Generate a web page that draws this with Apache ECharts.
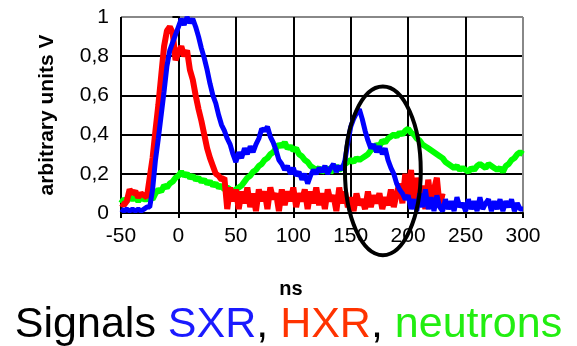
<!DOCTYPE html>
<html>
<head>
<meta charset="utf-8">
<script src="https://cdn.jsdelivr.net/npm/echarts@6/dist/echarts.min.js"></script>
<style>
  html, body { margin: 0; padding: 0; background: #fff; }
  #chart { width: 577px; height: 346px; }
</style>
</head>
<body>
<div id="chart"></div>
<script>
// time axis, ns (2.5 ns sampling)
var times = [
  -50, -47.5, -45, -42.5, -40, -37.5, -35, -32.5, -30, -27.5,
  -25, -22.5, -20, -17.5, -15, -12.5, -10, -7.5, -5, -2.5,
  0, 2.5, 5, 7.5, 10, 12.5, 15, 17.5, 20, 22.5,
  25, 27.5, 30, 32.5, 35, 37.5, 40, 42.5, 45, 47.5,
  50, 52.5, 55, 57.5, 60, 62.5, 65, 67.5, 70, 72.5,
  75, 77.5, 80, 82.5, 85, 87.5, 90, 92.5, 95, 97.5,
  100, 102.5, 105, 107.5, 110, 112.5, 115, 117.5, 120, 122.5,
  125, 127.5, 130, 132.5, 135, 137.5, 140, 142.5, 145, 147.5,
  150, 152.5, 155, 157.5, 160, 162.5, 165, 167.5, 170, 172.5,
  175, 177.5, 180, 182.5, 185, 187.5, 190, 192.5, 195, 197.5,
  200, 202.5, 205, 207.5, 210, 212.5, 215, 217.5, 220, 222.5,
  225, 227.5, 230, 232.5, 235, 237.5, 240, 242.5, 245, 247.5,
  250, 252.5, 255, 257.5, 260, 262.5, 265, 267.5, 270, 272.5,
  275, 277.5, 280, 282.5, 285, 287.5, 290, 292.5, 295, 297.5,
  300
];

var sxr = [
  0.02, 0.01, 0.02, 0.01, 0.02, 0.01, 0.02, 0.01, 0.02, 0.03,
  0.03, 0.12, 0.27, 0.38, 0.5, 0.62, 0.75, 0.83, 0.87, 0.91,
  0.95, 0.99, 0.96, 1.0, 0.97, 0.99, 0.95, 0.9, 0.84, 0.79,
  0.73, 0.66, 0.6, 0.56, 0.5, 0.45, 0.42, 0.38, 0.35, 0.3,
  0.26, 0.31, 0.28, 0.33, 0.3, 0.34, 0.31, 0.35, 0.38, 0.43,
  0.42, 0.44, 0.39, 0.36, 0.32, 0.27, 0.25, 0.22, 0.24, 0.2,
  0.23, 0.19, 0.21, 0.17, 0.2, 0.15, 0.19, 0.22, 0.2, 0.23,
  0.21, 0.24, 0.2, 0.23, 0.25, 0.21, 0.24, 0.22, 0.27, 0.36,
  0.44, 0.48, 0.51, 0.53, 0.48, 0.42, 0.37, 0.33, 0.35, 0.31,
  0.34, 0.3, 0.33, 0.27, 0.23, 0.2, 0.15, 0.12, 0.1, 0.07,
  0.09, 0.02, 0.07, 0.01, 0.1, 0.03, 0.12, 0.02, 0.08, 0.01,
  0.09, 0.03, 0.01, 0.07, 0.02, 0.06, 0.01, 0.08, 0.03, 0.05,
  0.01, 0.07, 0.02, 0.06, 0.01, 0.08, 0.02, 0.05, 0.07, 0.01,
  0.06, 0.02, 0.07, 0.01, 0.06, 0.03, 0.07, 0.01, 0.05, 0.02,
  0.02
];

var hxr = [
  0.05, 0.04, 0.06, 0.12, 0.1, 0.11, 0.08, 0.1, 0.09, 0.08,
  0.18, 0.28, 0.42, 0.55, 0.7, 0.85, 0.93, 0.95, 0.92, 0.78,
  0.82, 0.85, 0.8, 0.83, 0.73, 0.68, 0.6, 0.53, 0.47, 0.4,
  0.33, 0.28, 0.24, 0.2, 0.19, 0.17, 0.18, 0.02, 0.13, 0.06,
  0.12, 0.02, 0.11, 0.05, 0.13, 0.03, 0.1, 0.01, 0.12, 0.06,
  0.11, 0.02, 0.13, 0.07, 0.1, 0.01, 0.12, 0.04, 0.11, 0.06,
  0.13, 0.03, 0.1, 0.06, 0.12, 0.02, 0.11, 0.05, 0.13, 0.04,
  0.1, 0.02, 0.12, 0.06, 0.09, 0.01, 0.13, 0.05, 0.11, 0.03,
  0.08, 0.01, 0.1, 0.04, 0.07, 0.02, 0.11, 0.03, 0.09, 0.05,
  0.1, 0.02, 0.08, 0.04, 0.12, 0.03, 0.1, 0.15, 0.05, 0.2,
  0.08, 0.22, 0.04, 0.18, 0.06, 0.14, 0.02, 0.17, 0.05, 0.12,
  0.18, 0.03, 0.1, null, null, null, null, null, null, null,
  null, null, null, null, null, null, null, null, null, null,
  null, null, null, null, null, null, null, null, null, null,
  null
];

var neutrons = [
  0.05, 0.07, 0.06, 0.08, 0.07, 0.08, 0.06, 0.08, 0.07, 0.07,
  0.08, 0.07, 0.1, 0.12, 0.11, 0.14, 0.13, 0.15, 0.16, 0.18,
  0.19, 0.21, 0.19, 0.2, 0.18, 0.19, 0.17, 0.18, 0.16, 0.17,
  0.15, 0.16, 0.14, 0.15, 0.13, 0.14, 0.12, 0.13, 0.12, 0.11,
  0.12, 0.13, 0.14, 0.16, 0.18, 0.19, 0.21, 0.22, 0.24, 0.25,
  0.27, 0.28, 0.3, 0.31, 0.33, 0.35, 0.34, 0.36, 0.33, 0.34,
  0.32, 0.33, 0.3, 0.29, 0.27, 0.26, 0.24, 0.23, 0.22, 0.23,
  0.21, 0.22, 0.23, 0.21, 0.22, 0.24, 0.22, 0.23, 0.25, 0.26,
  0.27, 0.26, 0.28, 0.27, 0.28, 0.29, 0.3, 0.32, 0.33, 0.35,
  0.34, 0.37, 0.36, 0.38, 0.39, 0.4, 0.39, 0.41, 0.4, 0.42,
  0.43, 0.41, 0.4, 0.38, 0.37, 0.35, 0.34, 0.33, 0.32, 0.31,
  0.3, 0.29, 0.28, 0.26, 0.25, 0.24, 0.23, 0.24, 0.22, 0.23,
  0.22, 0.21, 0.23, 0.22, 0.24, 0.25, 0.24, 0.23, 0.25, 0.24,
  0.23, 0.22, 0.23, 0.21, 0.24, 0.25, 0.27, 0.28, 0.3, 0.31,
  0.3
];

// x / y ticks
var xTicks = [-50, 0, 50, 100, 150, 200, 250, 300];
var yTicks = [0, 0.2, 0.4, 0.6, 0.8, 1];

function pairs(ys) {
  return times.map(function (t, i) { return [t, ys[i]]; });
}

var chart = echarts.init(document.getElementById('chart'));

var font = 'Arial, "Liberation Sans", sans-serif';

var option = {
  animation: false,
  textStyle: { fontFamily: font },
  title: {
    left: 'center',
    top: 299,
    text: '{k|Signals }{b|SXR}{k|, }{r|HXR}{k|, }{g|neutrons}',
    textStyle: {
      fontWeight: 'normal',
      rich: {
        k: { fontSize: 43, fontWeight: 'normal', color: '#000', fontFamily: font },
        b: { fontSize: 43, fontWeight: 'normal', color: '#1a1aff', fontFamily: font },
        r: { fontSize: 43, fontWeight: 'normal', color: '#ff3300', fontFamily: font },
        g: { fontSize: 43, fontWeight: 'normal', color: '#22ee11', fontFamily: font }
      }
    }
  },
  grid: { left: 121, right: 54, top: 17, bottom: 133 },
  xAxis: {
    type: 'value',
    min: xTicks[0],
    max: xTicks[xTicks.length - 1],
    interval: 50,
    name: 'ns',
    nameLocation: 'middle',
    nameGap: 66,
    nameTextStyle: { fontWeight: 'bold', fontSize: 20, color: '#000', padding: [0, 62, 0, 0] },
    axisLine: { lineStyle: { color: '#000', width: 2 } },
    axisTick: { show: true, length: 5, lineStyle: { color: '#000', width: 2 } },
    axisLabel: { fontSize: 21, color: '#000', margin: 13 },
    splitLine: {
      show: true,
      lineStyle: { color: ['#000', '#000', '#000', '#000', '#000', '#000', '#000', '#888'], width: 2 }
    }
  },
  yAxis: {
    type: 'value',
    min: yTicks[0],
    max: yTicks[yTicks.length - 1],
    interval: 0.2,
    name: 'arbitrary units V',
    nameLocation: 'middle',
    nameGap: 63,
    nameTextStyle: { fontWeight: 'bold', fontSize: 21, color: '#000' },
    axisLine: { show: true, lineStyle: { color: '#000', width: 2 } },
    axisTick: { show: true, length: 6, lineStyle: { color: '#000', width: 2 } },
    axisLabel: {
      fontSize: 21, color: '#000', margin: 12,
      formatter: function (v) { return String(Math.round(v * 10) / 10).replace('.', ','); }
    },
    splitLine: {
      show: true,
      lineStyle: { color: ['#000', '#000', '#000', '#000', '#000', '#888'], width: 2 }
    }
  },
  series: [
    {
      name: 'neutrons', type: 'line', data: pairs(neutrons),
      showSymbol: false, lineStyle: { color: '#00ff00', width: 6, join: 'bevel' }
    },
    {
      name: 'HXR', type: 'line', data: pairs(hxr),
      showSymbol: false, lineStyle: { color: '#ff0000', width: 6, join: 'bevel' }
    },
    {
      name: 'SXR', type: 'line', data: pairs(sxr),
      showSymbol: false, lineStyle: { color: '#0000ff', width: 5, join: 'bevel' }
    }
  ]
};

chart.setOption(option);

// ellipse around the second SXR peak, placed in data coordinates
var c = chart.convertToPixel({ gridIndex: 0 }, [178, 0.215]);
var e = chart.convertToPixel({ gridIndex: 0 }, [178 + 33, 0.215 + 0.43]);
chart.setOption({
  graphic: [{
    type: 'ellipse',
    shape: { cx: c[0], cy: c[1], rx: Math.abs(e[0] - c[0]), ry: Math.abs(e[1] - c[1]) },
    style: { fill: null, stroke: '#000', lineWidth: 4 },
    z: 100
  }]
});
</script>
</body>
</html>
